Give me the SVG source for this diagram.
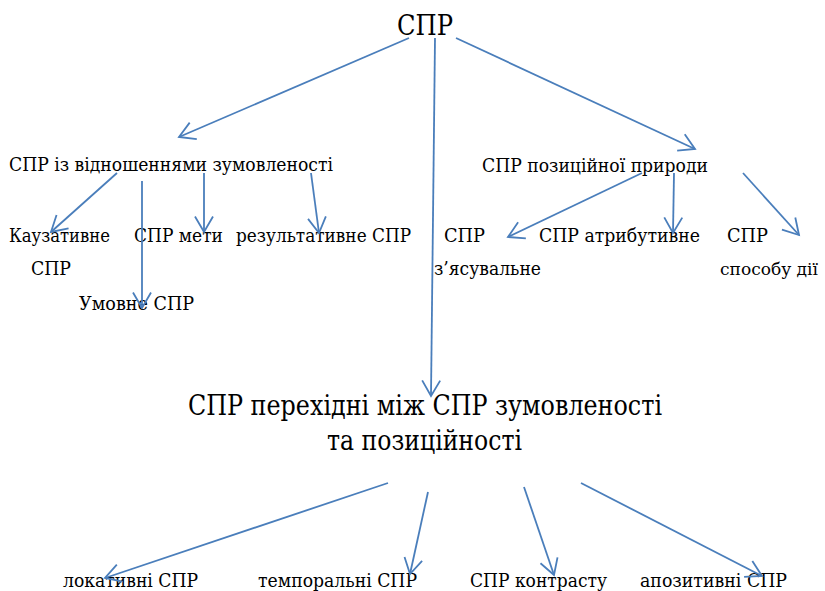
<svg xmlns="http://www.w3.org/2000/svg" width="825" height="591" viewBox="0 0 825 591">
<style>
.t{font-size:19px}
.big{font-size:27px}
.c line{stroke:#4a7ebb;stroke-width:1.8;fill:none;marker-end:url(#ah)}
</style>
<defs>
<marker id="ah" markerUnits="userSpaceOnUse" orient="auto" markerWidth="24" markerHeight="24" viewBox="-20 -12 24 24" refX="0" refY="0" overflow="visible">
<path d="M-15.5,-9 L0,0 L-15.5,9" fill="none" stroke="#4a7ebb" stroke-width="1.8"/>
</marker>
</defs>
<rect width="825" height="591" fill="#fff"/>
<g id="nodes" font-family="DejaVu Serif, serif" fill="#000">
<g id="root"><text class="big" x="397" y="35" textLength="56" lengthAdjust="spacingAndGlyphs">СПР</text></g>
<g id="zum"><text class="t" x="9" y="171" textLength="324" lengthAdjust="spacingAndGlyphs">СПР із відношеннями зумовленості</text></g>
<g id="poz"><text class="t" x="482" y="172" textLength="226" lengthAdjust="spacingAndGlyphs">СПР позиційної природи</text></g>
<g id="kauz"><text class="t" x="9" y="242" textLength="101" lengthAdjust="spacingAndGlyphs">Каузативне</text><text class="t" x="31" y="275" textLength="40" lengthAdjust="spacingAndGlyphs">СПР</text></g>
<g id="meta"><text class="t" x="134" y="242" textLength="89" lengthAdjust="spacingAndGlyphs">СПР мети</text></g>
<g id="rez"><text class="t" x="236" y="242" textLength="175" lengthAdjust="spacingAndGlyphs">результативне СПР</text></g>
<g id="umov"><text class="t" x="79" y="310" textLength="115" lengthAdjust="spacingAndGlyphs">Умовне СПР</text></g>
<g id="zjas"><text class="t" x="444" y="242" textLength="41" lengthAdjust="spacingAndGlyphs">СПР</text><text class="t" x="434" y="275" textLength="107" lengthAdjust="spacingAndGlyphs">з’ясувальне</text></g>
<g id="atr"><text class="t" x="539" y="242" textLength="161" lengthAdjust="spacingAndGlyphs">СПР атрибутивне</text></g>
<g id="sposib"><text class="t" x="727" y="242" textLength="41" lengthAdjust="spacingAndGlyphs">СПР</text><text x="720" y="275" font-size="16.5" textLength="98" lengthAdjust="spacingAndGlyphs">способу дії</text></g>
<g id="perehid"><text class="big" x="188" y="415" textLength="474" lengthAdjust="spacingAndGlyphs">СПР перехідні між СПР зумовленості</text><text class="big" x="327" y="450" textLength="195" lengthAdjust="spacingAndGlyphs">та позиційності</text></g>
<g id="lok"><text class="t" x="63" y="587" textLength="135" lengthAdjust="spacingAndGlyphs">локативні СПР</text></g>
<g id="temp"><text class="t" x="258" y="587" textLength="159" lengthAdjust="spacingAndGlyphs">темпоральні СПР</text></g>
<g id="kontr"><text class="t" x="470" y="587" textLength="137" lengthAdjust="spacingAndGlyphs">СПР контрасту</text></g>
<g id="apoz"><text class="t" x="640" y="587" textLength="147" lengthAdjust="spacingAndGlyphs">апозитивні СПР</text></g>
</g>
<g id="connectors" class="c">
<line x1="409" y1="38" x2="179" y2="137"/>
<line x1="456" y1="38" x2="695" y2="149"/>
<line x1="435" y1="38" x2="431" y2="396"/>
<line x1="117" y1="173" x2="51" y2="232"/>
<line x1="142" y1="181" x2="142" y2="308"/>
<line x1="204" y1="173" x2="204" y2="232"/>
<line x1="311" y1="173" x2="319" y2="233"/>
<line x1="642" y1="173" x2="508" y2="237"/>
<line x1="674" y1="173" x2="673" y2="233"/>
<line x1="743" y1="173" x2="799" y2="235"/>
<line x1="388" y1="483" x2="105" y2="578"/>
<line x1="428" y1="492" x2="410" y2="574"/>
<line x1="524" y1="487" x2="554" y2="575"/>
<line x1="581" y1="483" x2="762" y2="576"/>
</g>
</svg>
